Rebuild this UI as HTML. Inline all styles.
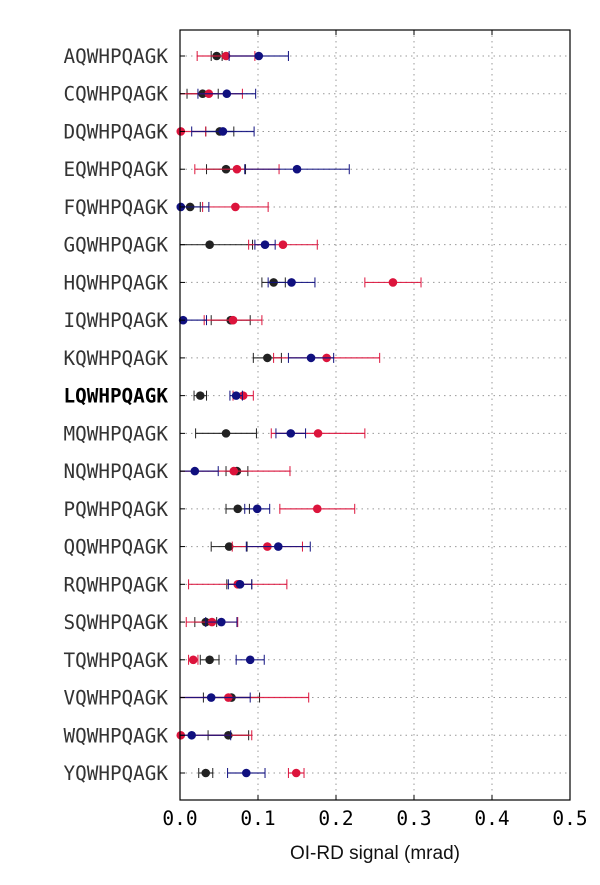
<!DOCTYPE html>
<html><head><meta charset="utf-8"><style>
body{margin:0;background:#fff;}
svg text{font-family:"DejaVu Sans Mono","Liberation Mono",monospace;}
</style></head><body>
<svg id="chart" width="600" height="880" xmlns="http://www.w3.org/2000/svg">
<rect width="600" height="880" fill="#fff"/>
<g id="grid"></g><g id="marks"></g><g id="axes"></g>
</svg>
<script>
const categories=["AQWHPQAGK","CQWHPQAGK","DQWHPQAGK","EQWHPQAGK","FQWHPQAGK","GQWHPQAGK","HQWHPQAGK","IQWHPQAGK","KQWHPQAGK","LQWHPQAGK","MQWHPQAGK","NQWHPQAGK","PQWHPQAGK","QQWHPQAGK","RQWHPQAGK","SQWHPQAGK","TQWHPQAGK","VQWHPQAGK","WQWHPQAGK","YQWHPQAGK"];
const blackVals=[0.047,0.029,0.051,0.059,0.013,0.038,0.120,0.065,0.112,0.026,0.059,0.073,0.074,0.063,0.076,0.033,0.038,0.066,0.062,0.033];
const blackErr=[0.007,0.020,0.018,0.025,0.013,0.055,0.015,0.025,0.018,0.008,0.039,0.014,0.015,0.023,0.016,0.014,0.012,0.036,0.026,0.009];
const redVals=[0.059,0.037,0.001,0.073,0.071,0.132,0.273,0.068,0.188,0.081,0.177,0.069,0.176,0.112,0.074,0.041,0.017,0.062,0.001,0.149];
const redErr=[0.037,0.043,0.032,0.054,0.042,0.044,0.036,0.037,0.068,0.013,0.060,0.072,0.048,0.045,0.063,0.033,0.006,0.103,0.091,0.010];
const blueVals=[0.101,0.060,0.055,0.150,0.001,0.109,0.143,0.004,0.168,0.072,0.142,0.019,0.099,0.126,0.077,0.053,0.090,0.040,0.015,0.085];
const blueErr=[0.038,0.037,0.040,0.067,0.036,0.013,0.030,0.030,0.029,0.008,0.019,0.030,0.016,0.041,0.015,0.020,0.018,0.050,0.050,0.024];
const xTicks=[0,0.1,0.2,0.3,0.4,0.5];
const xTickLabels=["0.0","0.1","0.2","0.3","0.4","0.5"];
const boldCategory="LQWHPQAGK";

const L=180,R=570,T=30,B=800;
const X=v=>L+(v-0)/(0.5-0)*(R-L);
const Y=i=>56+i*(773-56)/(categories.length-1);
const NS="http://www.w3.org/2000/svg";
function mk(tag,parent,attrs){const e=document.createElementNS(NS,tag);for(const k in attrs)e.setAttribute(k,attrs[k]);parent.appendChild(e);return e;}
const grid=document.getElementById('grid'),marks=document.getElementById('marks'),axes=document.getElementById('axes');

xTicks.forEach((t,j)=>{
  if(t>0&&t<0.5){const g=mk('line',grid,{x1:X(t),x2:X(t),y1:T,y2:B,stroke:'#999','stroke-dasharray':'1.5,4','stroke-width':1});
  
  }
  const tk=mk('line',axes,{x1:X(t),x2:X(t),y1:B,y2:B-5,stroke:'#000'});
  
  
  const tk2=mk('line',axes,{x1:X(t),x2:X(t),y1:T,y2:T+5,stroke:'#000'});
  
  
  const tx=mk('text',axes,{x:X(t),y:825,'font-size':19.5,'text-anchor':'middle',fill:'#000'});
  tx.textContent=xTickLabels[j];
  
  
});
categories.forEach((c,i)=>{
  const g=mk('line',grid,{x1:L,x2:R,y1:Y(i),y2:Y(i),stroke:'#999','stroke-dasharray':'1.5,4','stroke-width':1});
  
  
  const tk=mk('line',axes,{x1:L,x2:L+5,y1:Y(i),y2:Y(i),stroke:'#000'});
  
  
  const tx=mk('text',axes,{x:168,y:Y(i)+7,'font-size':19.3,'text-anchor':'end',fill:c===boldCategory?'#000':'#333','font-weight':c===boldCategory?'bold':'normal'});
  tx.textContent=c;
  
  
});
const series=[[blackVals,blackErr,'#222','black'],[redVals,redErr,'#dc143c','red'],[blueVals,blueErr,'#10107f','blue']];
series.forEach(([vals,errs,col,nm])=>{
  vals.forEach((v,i)=>{
    const y=Y(i),lo=Math.max(0,v-errs[i]),hi=Math.min(0.5,v+errs[i]);
    const ln=mk('line',marks,{x1:X(lo),x2:X(hi),y1:y,y2:y,stroke:col,'stroke-width':1.2,opacity:0.9});
    
    
    [lo,hi].forEach(e=>{const cp=mk('line',marks,{x1:X(e),x2:X(e),y1:y-5,y2:y+5,stroke:col,'stroke-width':1});
      
      });
    const p=mk('circle',marks,{cx:X(v),cy:y,r:4.3,fill:col});
    
    
  });
});
const fr=mk('rect',axes,{x:L,y:T,width:R-L,height:B-T,fill:'none',stroke:'#000','stroke-width':1.2});


const xl=mk('text',axes,{x:375,y:859,'font-size':19,'text-anchor':'middle',fill:'#111',style:'font-family:"Liberation Sans","DejaVu Sans",sans-serif'});
xl.textContent='OI-RD signal (mrad)';


</script>
</body></html>
